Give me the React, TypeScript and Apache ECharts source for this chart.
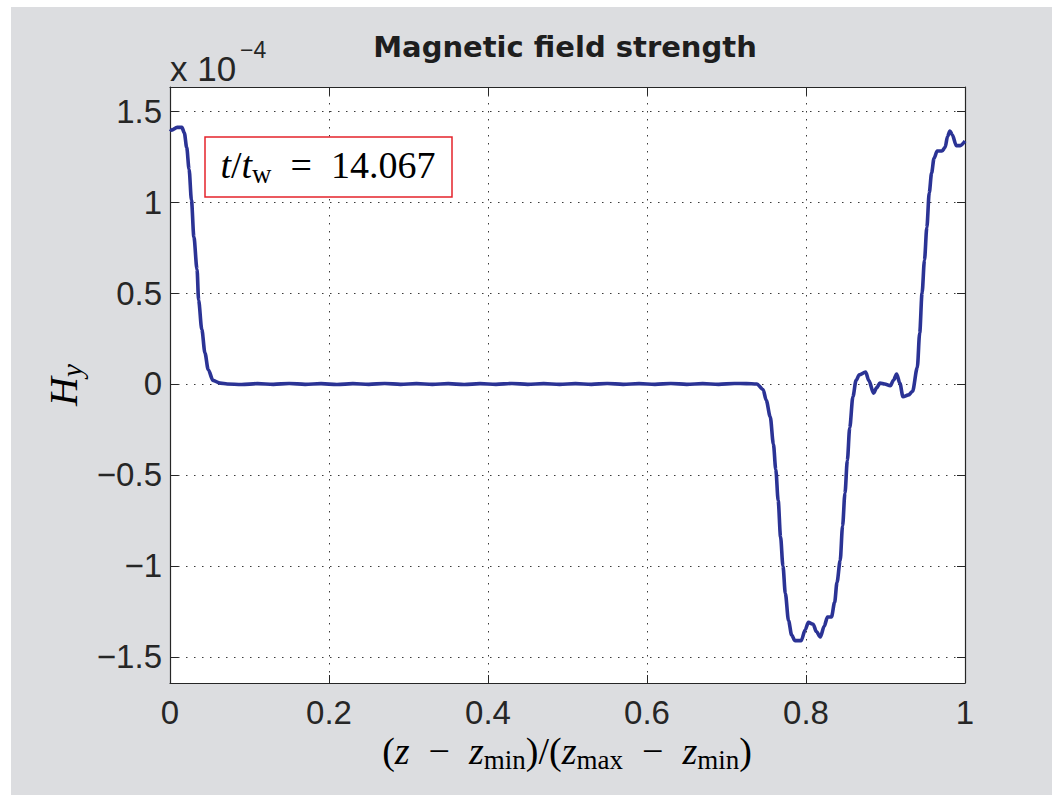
import React, { useEffect, useRef } from "react";
import * as echarts from "echarts";

// Normalised position along z and the field H_y (in units of 1e-4)
const zPos: number[] = [
  0, 0.002, 0.009, 0.015, 0.018, 0.021, 0.024, 0.027, 0.030, 0.034, 0.036, 0.040,
  0.044, 0.048, 0.054, 0.063, 0.072, 0.09, 0.11, 0.13, 0.15, 0.17, 0.19, 0.21,
  0.23, 0.25, 0.27, 0.29, 0.31, 0.33, 0.35, 0.37, 0.39, 0.41, 0.43, 0.45, 0.47,
  0.49, 0.51, 0.53, 0.55, 0.57, 0.59, 0.61, 0.63, 0.65, 0.67, 0.69, 0.71, 0.725,
  0.738, 0.746, 0.750, 0.755, 0.759, 0.762, 0.765, 0.768, 0.771, 0.774, 0.778,
  0.782, 0.786, 0.794, 0.799, 0.803, 0.809, 0.813, 0.818, 0.823, 0.827, 0.832,
  0.836, 0.839, 0.843, 0.846, 0.849, 0.852, 0.855, 0.859, 0.863, 0.867, 0.875,
  0.879, 0.885, 0.889, 0.893, 0.899, 0.906, 0.910, 0.914, 0.918, 0.922, 0.929,
  0.934, 0.940, 0.943, 0.946, 0.949, 0.952, 0.955, 0.958, 0.961, 0.965, 0.971,
  0.975, 0.978, 0.981, 0.984, 0.989, 0.994, 1.0,
];

const hy: number[] = [
  1.40, 1.395, 1.41, 1.41, 1.38, 1.30, 1.18, 1.01, 0.81, 0.63, 0.46, 0.30,
  0.17, 0.08, 0.02, 0.005, 0.0, -0.003, 0.002, -0.002, 0.003, -0.002, 0.002, -0.003,
  0.002, -0.002, 0.003, -0.002, 0.002, -0.002, 0.002, -0.003, 0.002, -0.002, 0.003, -0.002,
  0.002, -0.002, 0.002, -0.002, 0.003, -0.002, 0.002, -0.002, 0.003, -0.002, 0.002, -0.002,
  0.003, 0.002,
  0.0, -0.03, -0.09, -0.18, -0.33, -0.47, -0.64, -0.84, -1.0, -1.15, -1.30,
  -1.38, -1.41, -1.41, -1.35, -1.31, -1.32, -1.36, -1.39, -1.33, -1.28, -1.28,
  -1.2, -1.09, -0.97, -0.78, -0.60, -0.42, -0.24, -0.07, 0.02, 0.05, 0.066,
  0.02, -0.05, -0.02, 0.005, 0.0, -0.01, 0.02, 0.055, 0.005, -0.07, -0.06,
  -0.04, 0.09, 0.28, 0.5, 0.68, 0.86, 1.05, 1.16, 1.24, 1.28, 1.28,
  1.30, 1.36, 1.39, 1.37, 1.31, 1.31, 1.335,
];

const xTicks: number[] = [0, 0.2, 0.4, 0.6, 0.8, 1];
const yTicks: number[] = [-1.5, -1, -0.5, 0, 0.5, 1, 1.5];
const yRange: [number, number] = [-1.643, 1.632];

const titleText = "Magnetic field strength";
const timeLabel = "14.067";

const INK = "#262626";
const LINE = "#2b3395";
const SANS = "'Liberation Sans', Arial, sans-serif";
const SERIF = "'Liberation Serif', 'Times New Roman', serif";

export default function App() {
  const ref = useRef<HTMLDivElement>(null);

  useEffect(() => {
    if (!ref.current) return;
    const chart = echarts.init(ref.current, undefined, { renderer: "svg" });

    const points = zPos.map((z, i) => [z, hy[i]]);
    const minus = (v: number) => String(v).replace("-", "\u2212");

    const gridLine = {
      show: true,
      lineStyle: { color: "#3a3a3a", width: 1, type: [1.5, 6.5] as any },
    };
    const boxLine = { show: true, onZero: false, lineStyle: { color: INK, width: 1.2 } };
    const innerTick = (custom?: number[]) => ({
      show: true,
      inside: true,
      length: 8,
      ...(custom ? { customValues: custom } : {}),
      lineStyle: { color: INK },
    });

    const math = (size: number) => ({
      i: { fontFamily: SERIF, fontStyle: "italic", fontSize: size, lineHeight: size + 6, color: INK },
      r: { fontFamily: SERIF, fontSize: size, lineHeight: size + 6, color: INK },
      s: {
        fontFamily: SERIF,
        fontSize: Math.round(size * 0.7),
        lineHeight: Math.round(size * 0.66),
        verticalAlign: "bottom",
        color: INK,
      },
      si: {
        fontFamily: SERIF,
        fontStyle: "italic",
        fontSize: Math.round(size * 0.72),
        lineHeight: Math.round(size * 0.66),
        verticalAlign: "bottom",
        color: INK,
      },
    });

    chart.setOption({
      animation: false,
      backgroundColor: "#dcdde0",
      grid: {
        left: 159,
        top: 80,
        width: 795,
        height: 596,
        show: true,
        backgroundColor: "#ffffff",
        borderWidth: 0,
      },
      xAxis: [
        {
          type: "value",
          min: xTicks[0],
          max: xTicks[xTicks.length - 1],
          interval: 0.2,
          position: "bottom",
          axisLine: boxLine,
          axisTick: innerTick(),
          axisLabel: {
            show: true,
            margin: 13,
            fontFamily: SANS,
            fontSize: 33,
            color: INK,
          },
          splitLine: gridLine,
        },
        {
          type: "value",
          min: xTicks[0],
          max: xTicks[xTicks.length - 1],
          interval: 0.2,
          position: "top",
          axisLine: boxLine,
          axisTick: innerTick(),
          axisLabel: { show: false },
          splitLine: { show: false },
        },
      ],
      yAxis: [
        {
          type: "value",
          min: yRange[0],
          max: yRange[1],
          position: "left",
          axisLine: boxLine,
          axisTick: innerTick(yTicks),
          axisLabel: {
            show: true,
            margin: 8,
            fontFamily: SANS,
            fontSize: 33,
            color: INK,
            customValues: yTicks,
            formatter: (v: number) => minus(v),
          },
          splitLine: gridLine,
        },
        {
          type: "value",
          min: yRange[0],
          max: yRange[1],
          position: "right",
          axisLine: boxLine,
          axisTick: innerTick(yTicks),
          axisLabel: { show: false, customValues: yTicks },
          splitLine: { show: false },
        },
      ],
      series: [
        {
          type: "line",
          xAxisIndex: 0,
          yAxisIndex: 0,
          data: points,
          showSymbol: false,
          smooth: 0.3,
          smoothMonotone: "x",
          lineStyle: { color: LINE, width: 3.6 },
          z: 5,
        },
      ],
      graphic: [
        {
          type: "text",
          z: 10,
          style: {
            text: titleText,
            x: 554,
            y: 40,
            align: "center",
            verticalAlign: "middle",
            fontFamily: "'DejaVu Sans', sans-serif",
            fontWeight: "bold",
            fontSize: 29,
            fill: "#1e1e1e",
          },
        },
        {
          type: "text",
          z: 10,
          style: {
            text: "x 10",
            x: 159,
            y: 61,
            align: "left",
            verticalAlign: "middle",
            fontFamily: SANS,
            fontSize: 35,
            fill: INK,
          },
        },
        {
          type: "text",
          z: 10,
          style: {
            text: "\u22124",
            x: 229,
            y: 43,
            align: "left",
            verticalAlign: "middle",
            fontFamily: SANS,
            fontSize: 23,
            fill: INK,
          },
        },
        {
          type: "text",
          z: 10,
          rotation: Math.PI / 2,
          x: 52,
          y: 378,
          style: {
            text: "{i|H}{si|y}",
            x: 0,
            y: 0,
            align: "center",
            verticalAlign: "middle",
            rich: math(40),
          },
        },
        {
          type: "text",
          z: 10,
          style: {
            text:
              "{r|(}{i|z}{r|\u2002\u2212\u2002}{i|z}{s|min}{r|)/(}{i|z}{s|max}{r|\u2002\u2212\u2002}{i|z}{s|min}{r|)}",
            x: 556,
            y: 744,
            align: "center",
            verticalAlign: "middle",
            rich: math(38),
          },
        },
        {
          type: "rect",
          z: 10,
          shape: { x: 194, y: 130, width: 247, height: 60 },
          style: { fill: "#ffffff", stroke: "#e5232b", lineWidth: 1.5 },
        },
        {
          type: "text",
          z: 11,
          style: {
            text: "{i|t}{r|/}{i|t}{s|w}{r|\u2002=\u2002" + timeLabel + "}",
            x: 317,
            y: 158,
            align: "center",
            verticalAlign: "middle",
            rich: math(38),
          },
        },
      ],
    });

    return () => chart.dispose();
  }, []);

  return (
    <div
      style={{
        position: "fixed",
        left: 0,
        top: 0,
        width: 1052,
        height: 795,
        background: "#ffffff",
      }}
    >
      <div
        ref={ref}
        style={{ position: "absolute", left: 11, top: 7, width: 1041, height: 788 }}
      />
    </div>
  );
}
